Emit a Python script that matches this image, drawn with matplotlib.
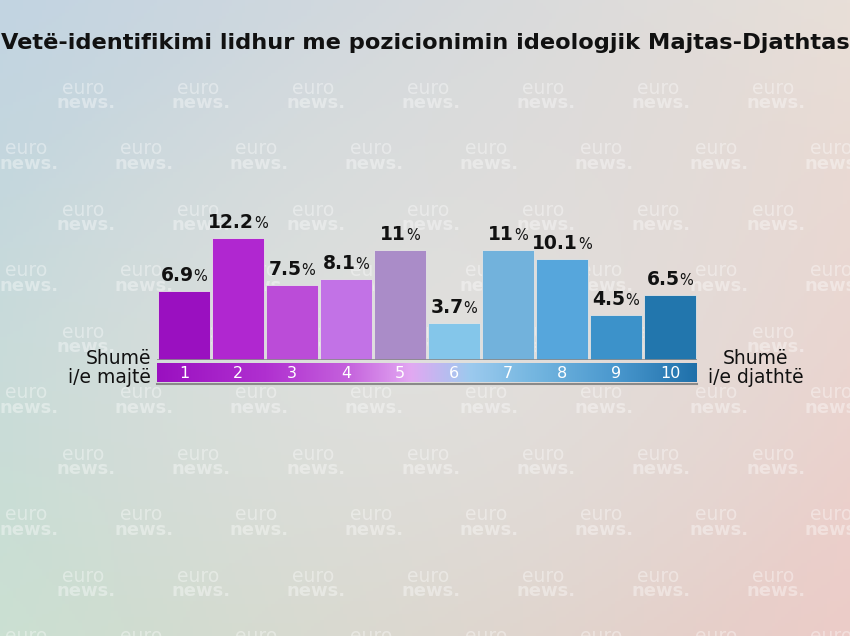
import numpy as np
import matplotlib
matplotlib.use("Agg")
import matplotlib.pyplot as plt
from matplotlib.colors import LinearSegmentedColormap, to_rgb
from matplotlib.offsetbox import TextArea, HPacker, AnnotationBbox

# data
scale = ["1", "2", "3", "4", "5", "6", "7", "8", "9", "10"]
values = [6.9, 12.2, 7.5, 8.1, 11, 3.7, 11, 10.1, 4.5, 6.5]
labels = ["6.9", "12.2", "7.5", "8.1", "11", "3.7", "11", "10.1", "4.5", "6.5"]
bar_colors = ["#9a10c0", "#b027d0", "#bb4cd8", "#c272e6", "#aa8cc8",
              "#84c6ea", "#72b2dc", "#56a6dc", "#3c92ca", "#2276ad"]

title = "Vetë-identifikimi lidhur me pozicionimin ideologjik Majtas-Djathtas"

W, H = 850, 636
fig = plt.figure(figsize=(W / 100, H / 100), dpi=100)

#background gradient (four corners, lighter middle)
bg = fig.add_axes([0, 0, 1, 1])
tl, tr = np.array(to_rgb("#c2d4e2")), np.array(to_rgb("#e8dfd8"))
bl, br = np.array(to_rgb("#cbe0d2")), np.array(to_rgb("#ecccc8"))
mid = np.array(to_rgb("#e6e6e4"))
yy, xx = np.mgrid[0:1:200j, 0:1:260j]
img = ((1 - xx)[..., None] * (1 - yy)[..., None] * tl + xx[..., None] * (1 - yy)[..., None] * tr
       + (1 - xx)[..., None] * yy[..., None] * bl + xx[..., None] * yy[..., None] * br)
d = np.sqrt((xx - 0.5) ** 2 + (yy - 0.55) ** 2)
wgt = np.clip(1 - d / 0.55, 0, 1)[..., None] * 0.6
img = img * (1 - wgt) + mid * wgt
bg.imshow(img, aspect="auto", extent=[0, W, H, 0])
bg.set_xlim(0, W)
bg.set_ylim(H, 0)
bg.axis("off")

#watermark logo grid
for r in range(10):
    yc = 96 + r * 61
    x0 = 83 if r % 2 == 0 else 26
    for k in range(-1, 8):
        xc = x0 + k * 115
        bg.text(xc, yc - 8, "euro", color="white", alpha=0.38, fontsize=13.5,
                family="DejaVu Sans", ha="center", va="center")
        bg.text(xc + 3, yc + 7, "news.", color="white", alpha=0.38, fontsize=13,
                family="DejaVu Sans", fontweight="bold", ha="center", va="center")

bg.text(425, 43, title, fontsize=16.2, fontweight="bold", family="DejaVu Sans",
        ha="center", va="center", color="#111111")

#bars
ax = fig.add_axes([157 / W, (H - 360) / H, 540 / W, 150 / H])
x = np.arange(1, 11)
ax.bar(x, values, width=0.97, color=bar_colors, edgecolor="#e4e4e4", linewidth=0.6)
ax.set_xlim(0.5, 10.5)
ax.set_ylim(0, 15)
ax.axis("off")
ax.axhline(0, color="#8a8a8a", lw=1.2)

for xi, v, lab in zip(x, values, labels):
    num = TextArea(lab, textprops=dict(fontsize=13.5, fontweight="bold", color="#111111",
                                       family="DejaVu Sans"))
    pct = TextArea("%", textprops=dict(fontsize=10.5, color="#111111", family="DejaVu Sans"))
    box = HPacker(children=[num, pct], align="baseline", pad=0, sep=0)
    ab = AnnotationBbox(box, (xi, v), xybox=(0, 4), boxcoords="offset points",
                        box_alignment=(0.5, 0), frameon=False)
    ax.add_artist(ab)

#color strip with the scale
sax = fig.add_axes([157 / W, (H - 382) / H, 540 / W, 19 / H])
cmap = LinearSegmentedColormap.from_list("strip", [
    (0.0, "#9a10c0"), (0.2, "#b030d0"), (0.35, "#c460dc"), (0.47, "#e2a8f2"),
    (0.58, "#9ccaee"), (0.7, "#74b6e0"), (0.85, "#4a98ce"), (1.0, "#1f70aa")])
sax.imshow(np.linspace(0, 1, 256)[None, :], cmap=cmap, aspect="auto",
           extent=[0.5, 10.5, 0, 1])
for xi, s in zip(x, scale):
    sax.text(xi, 0.45, s, color="white", fontsize=11.5, ha="center", va="center")
sax.set_xlim(0.5, 10.5)
sax.set_ylim(0, 1)
sax.axis("off")
bg.plot([157, 697], [384, 384], color="#8a8a8a", lw=1.5)

bg.text(151, 368, "Shumë\ni/e majtë", fontsize=13.5, ha="right", va="center",
        linespacing=1.0, color="#111111")
bg.text(756, 368, "Shumë\ni/e djathtë", fontsize=13.5, ha="center", va="center",
        linespacing=1.0, color="#111111")

fig.savefig("out.png", dpi=100)
